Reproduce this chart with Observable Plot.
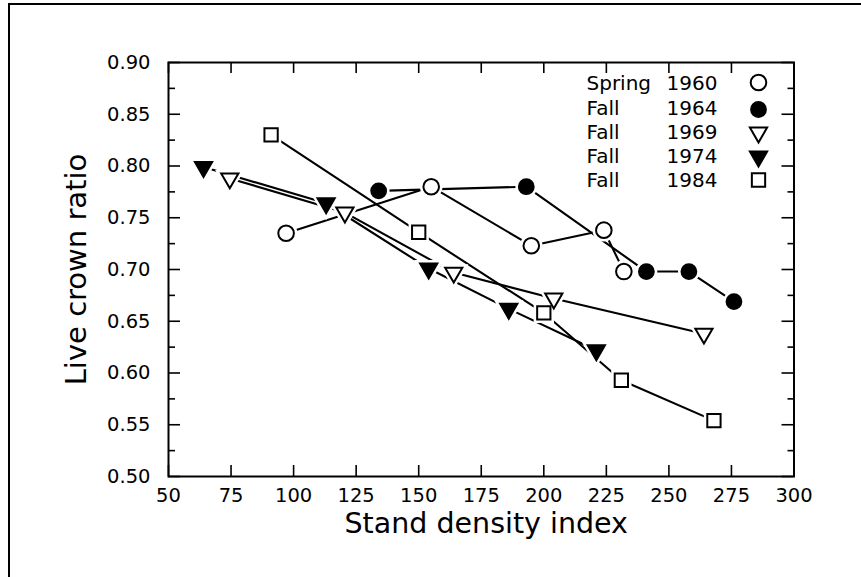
<!DOCTYPE html>
<html>
<head>
<meta charset="utf-8">
<script src="https://cdn.jsdelivr.net/npm/d3@7"></script>
<script src="https://cdn.jsdelivr.net/npm/@observablehq/plot@0.6"></script>
<style>
  html, body { margin: 0; padding: 0; background: #fff; overflow: hidden; }
  #wrap { position: relative; width: 861px; height: 577px; overflow: hidden; background: #fff; }
  #border { position: absolute; left: 8px; top: 3px; right: -20px; bottom: -20px; border: 2px solid #000; pointer-events: none; }
  #chart { position: absolute; left: 0; top: 0; }
</style>
</head>
<body>
<div id="wrap"><div id="chart"></div><div id="border"></div></div>
<script>
// ---- Data ----
const seasons = ["Spring", "Fall", "Fall", "Fall", "Fall"];
const years = ["1960", "1964", "1969", "1974", "1984"];

const sdi1960 = [97, 155, 195, 224, 232];
const lcr1960 = [0.735, 0.780, 0.723, 0.738, 0.698];

const sdi1964 = [134, 193, 241, 258, 276];
const lcr1964 = [0.776, 0.780, 0.698, 0.698, 0.669];

const sdi1969 = [74.5, 120.5, 164, 204, 264];
const lcr1969 = [0.788, 0.755, 0.697, 0.672, 0.638];

const sdi1974 = [64, 113, 154, 186, 221];
const lcr1974 = [0.799, 0.764, 0.701, 0.662, 0.622];

const sdi1984 = [91, 150, 200, 231, 268];
const lcr1984 = [0.830, 0.736, 0.658, 0.593, 0.554];

const xTicks = [50, 75, 100, 125, 150, 175, 200, 225, 250, 275, 300];
const yTicks = [0.50, 0.55, 0.60, 0.65, 0.70, 0.75, 0.80, 0.85, 0.90];
const yMinorTicks = [0.525, 0.575, 0.625, 0.675, 0.725, 0.775, 0.825, 0.875];

const xLabel = "Stand density index";
const yLabel = "Live crown ratio";

// ---- Styling ----
const symbols = ["circle", "circle", "triangle", "triangle", "square"];
const fills = ["white", "black", "white", "black", "white"];
const rotations = [0, 0, 180, 180, 0];
const radii = [7.8, 7.4, 6.4, 6.4, 7.5];

const W = 861, H = 577;
const mL = 168, mR = 67.5, mT = 62, mB = 101;
const innerW = W - mL - mR;
const innerH = H - mT - mB;

const xs = [sdi1960, sdi1964, sdi1969, sdi1974, sdi1984];
const ys = [lcr1960, lcr1964, lcr1969, lcr1974, lcr1984];
const series = xs.map((xa, i) => xa.map((x, j) => ({x, y: ys[i][j]})));

const marks = [];
// lines
series.forEach(s => marks.push(Plot.line(s, {x: "x", y: "y", stroke: "black", strokeWidth: 2.1})));
// white halos (gap between line and marker)
series.forEach((s, i) => marks.push(Plot.dot(s, {x: "x", y: "y", symbol: symbols[i], r: radii[i], rotate: rotations[i], fill: "white", stroke: "white", strokeWidth: 7})));
// markers
series.forEach((s, i) => marks.push(Plot.dot(s, {x: "x", y: "y", symbol: symbols[i], r: radii[i], rotate: rotations[i], fill: fills[i], stroke: "black", strokeWidth: 2})));

// frame & inward ticks
marks.push(Plot.frame({stroke: "black", strokeWidth: 2}));
marks.push(Plot.ruleX(xTicks, {x: d => d, insetTop: innerH - 11, stroke: "black", strokeWidth: 1.6}));
marks.push(Plot.ruleX(xTicks, {x: d => d, insetBottom: innerH - 11, stroke: "black", strokeWidth: 1.6}));
marks.push(Plot.ruleY(yTicks, {y: d => d, insetRight: innerW - 12, stroke: "black", strokeWidth: 1.6}));
marks.push(Plot.ruleY(yMinorTicks, {y: d => d, insetRight: innerW - 7, stroke: "black", strokeWidth: 1.6}));
marks.push(Plot.ruleY(yTicks, {y: d => d, insetLeft: innerW - 12, stroke: "black", strokeWidth: 1.6}));
marks.push(Plot.ruleY(yMinorTicks, {y: d => d, insetLeft: innerW - 6, stroke: "black", strokeWidth: 1.6}));

// axes labels
marks.push(Plot.axisX({ticks: xTicks, tickSize: 0, tickPadding: 12, tickFormat: d => String(d), label: null, fontSize: 19.5}));
marks.push(Plot.axisY({ticks: yTicks, tickSize: 0, tickPadding: 18, tickFormat: d => d.toFixed(2), label: null, fontSize: 19.5}));

// axis titles
marks.push(Plot.text([xLabel], {text: d => d, frameAnchor: "bottom", textAnchor: "middle", lineAnchor: "middle", dx: 5, dy: 47, fontSize: 28.5}));
marks.push(Plot.text([yLabel], {text: d => d, frameAnchor: "left", textAnchor: "middle", lineAnchor: "middle", dx: -92, dy: 0, rotate: -90, fontSize: 29}));

// legend
const rowY = [83.5, 108.5, 132.5, 156, 180.5];
const symY = [82, 109, 132, 156, 179.5];
seasons.forEach((s, i) => {
  marks.push(Plot.text([s], {text: d => d, frameAnchor: "top-left", dx: 586 - mL, dy: rowY[i] - mT, textAnchor: "start", lineAnchor: "middle", fontSize: 20}));
  marks.push(Plot.text([years[i]], {text: d => d, frameAnchor: "top-left", dx: 666 - mL, dy: rowY[i] - mT, textAnchor: "start", lineAnchor: "middle", fontSize: 20}));
  marks.push(Plot.dot([years[i]], {frameAnchor: "top-left", dx: 758 - mL, dy: symY[i] - mT, symbol: symbols[i], r: radii[i], rotate: rotations[i], fill: fills[i], stroke: "black", strokeWidth: 2}));
});

const chart = Plot.plot({
  width: W,
  height: H,
  marginLeft: mL,
  marginRight: mR,
  marginTop: mT,
  marginBottom: mB,
  x: {domain: [50, 300]},
  y: {domain: [0.5, 0.9]},
  style: {fontFamily: "DejaVu Sans", fontSize: "19.5px", color: "black", background: "white"},
  marks
});
document.getElementById("chart").appendChild(chart);
</script>
</body>
</html>
